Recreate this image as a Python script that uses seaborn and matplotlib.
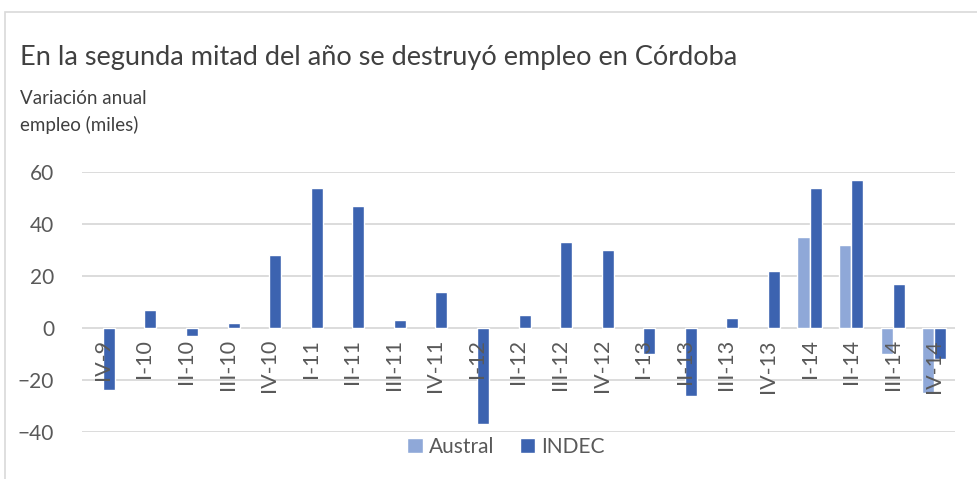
import matplotlib
matplotlib.use("Agg")
import matplotlib.pyplot as plt
import seaborn as sns
import pandas as pd
import numpy as np
from matplotlib.patches import Rectangle

categories = ["IV-9", "I-10", "II-10", "III-10", "IV-10", "I-11", "II-11", "III-11",
              "IV-11", "I-12", "II-12", "III-12", "IV-12", "I-13", "II-13", "III-13",
              "IV-13", "I-14", "II-14", "III-14", "IV-14"]
indec = [-24, 7, -3, 2, 28, 54, 47, 3, 14, -37, 5, 33, 30, -10, -26, 4, 22, 54, 57, 17, -12]
austral = [np.nan] * 17 + [35, 32, -10, -25]
series_names = ["Austral", "INDEC"]
yticks = [-40, -20, 0, 20, 40, 60]

title = "En la segunda mitad del año se destruyó empleo en Córdoba"
subtitle = "Variación anual\nempleo (miles)"

df = pd.DataFrame({
    "cat": categories * 2,
    "serie": ["Austral"] * len(categories) + ["INDEC"] * len(categories),
    "val": austral + indec,
})

sns.set_theme(style="white")
plt.rcParams["font.family"] = ["Lato", "DejaVu Sans"]

fig = plt.figure(figsize=(9.77, 4.79), dpi=100)
ax = fig.add_axes([82 / 977, 1 - 432 / 479, (955 - 82) / 977, (432 - 172) / 479])

sns.barplot(data=df, x="cat", y="val", hue="serie", hue_order=series_names,
            order=categories, palette=["#8FA8D8", "#3C63B0"], width=0.58,
            errorbar=None, ax=ax, saturation=1, legend=True)

ax.set_ylim(-40, 60)
ax.set_xlim(-0.5, len(categories) - 0.5)
ax.set_yticks(yticks)
ax.yaxis.grid(True, color="#D9D9D9", linewidth=1.3)
ax.set_axisbelow(True)
for s in ["top", "right", "left", "bottom"]:
    ax.spines[s].set_visible(False)
ax.set_xlabel("")
ax.set_ylabel("")
ax.set_xticks(range(len(categories)))
ax.set_xticklabels([])
ax.tick_params(axis="x", length=0)
ax.tick_params(axis="y", length=0, pad=20, labelsize=15, labelcolor="#595959")

for i, cat in enumerate(categories):
    ax.annotate(cat, (i, 0), xytext=(0, -8), textcoords="offset points", rotation=90,
                ha="center", va="top", fontsize=15.5, color="#595959", zorder=5)

handles, labels = ax.get_legend_handles_labels()
ax.legend(handles, labels, loc="center", bbox_to_anchor=(506 / 977, 1 - 447 / 479),
          bbox_transform=fig.transFigure, ncol=2, frameon=False, fontsize=15,
          handlelength=0.75, handleheight=0.75, handletextpad=0.3, columnspacing=1.2,
          labelcolor="#595959")

fig.text(20 / 977, 1 - 57 / 479, title, fontsize=19.5, color="#404040", va="center", ha="left")
fig.text(20 / 977, 1 - 112 / 479, subtitle, fontsize=13.5, color="#404040", va="center",
         ha="left", linespacing=1.6)

fig.patches.append(Rectangle((5 / 977, -0.05), 1.2, 1 - 12 / 479 + 0.05, transform=fig.transFigure,
                             fill=False, edgecolor="#D9D9D9", linewidth=1.2))

fig.savefig("out.png", dpi=100)
